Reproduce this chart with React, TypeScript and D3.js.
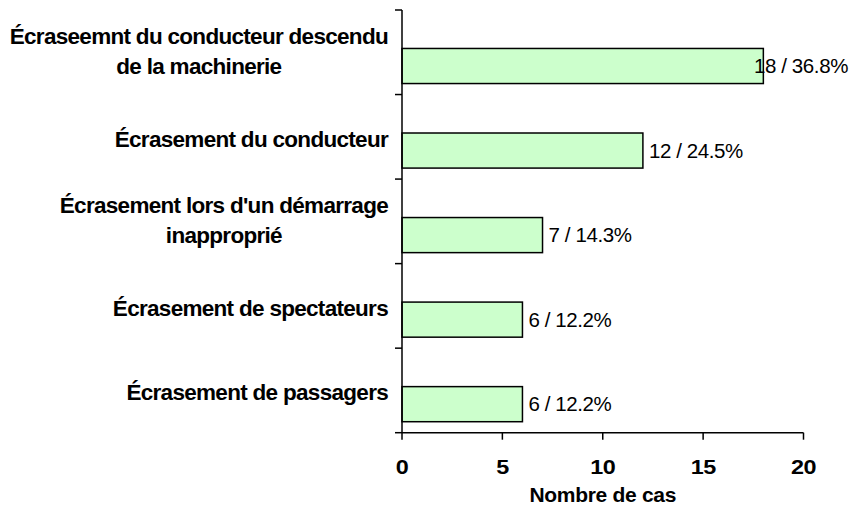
import { scaleBand, scaleLinear, select } from 'd3';
import { useRef, useLayoutEffect } from 'react';

// categories top to bottom, "\n" marks the line break used in the picture
const categories = [
    'Écraseemnt du conducteur descendu\nde la machinerie',
    'Écrasement du conducteur',
    "Écrasement lors d'un démarrage\ninapproprié",
    'Écrasement de spectateurs',
    'Écrasement de passagers',
];
const counts = [18, 12, 7, 6, 6];
const percents = ['36.8%', '24.5%', '14.3%', '12.2%', '12.2%'];
const xTicks = [0, 5, 10, 15, 20];
const xTitle = 'Nombre de cas';

const W = 851;
const H = 510;
const font = '"Liberation Sans", Arial, sans-serif';

export default function App() {
    const labelsRef = useRef(null);

    const left = 402;
    const right = 803.5;
    const top = 10;
    const bottom = 432.7;
    const labelRight = 388;

    const x = scaleLinear().domain([0, 20]).range([left, right]);
    const y = scaleBand().domain(categories).range([top, bottom]).padding(0);
    const bw = y.bandwidth();

    // band edges for the category ticks
    const edges = categories.map((c) => y(c)).concat([bottom]);

    // wrapped labels are centred as a block whose right edge sits at labelRight
    useLayoutEffect(() => {
        if (!labelsRef.current) return;
        select(labelsRef.current)
            .selectAll('text')
            .each(function () {
                const spans = select(this).selectAll('tspan');
                if (spans.size() < 2) return;
                let w = 0;
                spans.each(function () {
                    w = Math.max(w, this.getComputedTextLength());
                });
                select(this).attr('text-anchor', 'middle');
                spans.attr('x', labelRight - w / 2);
            });
    }, []);

    return (
        <svg
            width={W}
            height={H}
            style={{ position: 'absolute', left: 0, top: 0, background: '#fff' }}
            fontFamily={font}
        >
            {/* bars */}
            {categories.map((c, i) => (
                <rect
                    key={'bar-' + i}
                    x={x(0)}
                    y={y(c) + bw * 0.455}
                    width={x(counts[i]) - x(0)}
                    height={bw * 0.415}
                    fill='#CCFFCC'
                    stroke='#000'
                    strokeWidth={1.5}
                />
            ))}

            {/* value labels */}
            {categories.map((c, i) => {
                const label = `${counts[i]} / ${percents[i]}`;
                const estW = 93;
                let lx = x(counts[i]) + 6;
                let anchor = 'start';
                if (lx + estW > W - 3) {
                    lx = W - 3;
                    anchor = 'end';
                }
                return (
                    <text
                        key={'val-' + i}
                        x={lx}
                        y={y(c) + bw * 0.455 + (bw * 0.415) / 2}
                        dy='0.35em'
                        textAnchor={anchor}
                        fontSize={20.5}
                        letterSpacing={-0.4}
                        fill='#000'
                    >
                        {label}
                    </text>
                );
            })}

            {/* y axis */}
            <line x1={left} x2={left} y1={top} y2={bottom} stroke='#000' strokeWidth={1.5} />
            {edges.map((e, i) => (
                <line key={'yt-' + i} x1={left - 7} x2={left} y1={e} y2={e} stroke='#000' strokeWidth={1.5} />
            ))}

            {/* category labels */}
            <g ref={labelsRef}>
                {categories.map((c, i) => {
                    const lines = c.split('\n');
                    const lh = 30;
                    const cy =
                        y(c) + bw / 2 + (lines.length > 1 ? -1 : 2) - ((lines.length - 1) * lh) / 2;
                    return (
                        <text
                            key={'cat-' + i}
                            textAnchor='end'
                            fontSize={22.5}
                            fontWeight='bold'
                            letterSpacing={-0.7}
                            fill='#000'
                        >
                            {lines.map((l, j) => (
                                <tspan key={j} x={labelRight} y={cy + j * lh} dy='0.35em'>
                                    {l}
                                </tspan>
                            ))}
                        </text>
                    );
                })}
            </g>

            {/* x axis */}
            <line x1={left} x2={right} y1={bottom} y2={bottom} stroke='#000' strokeWidth={1.5} />
            {xTicks.map((t) => (
                <g key={'xt-' + t}>
                    <line x1={x(t)} x2={x(t)} y1={bottom} y2={bottom + 7} stroke='#000' strokeWidth={1.5} />
                    <text
                        transform={`translate(${x(t)},467) scale(1.2,1)`}
                        dy='0.35em'
                        textAnchor='middle'
                        fontSize={19.5}
                        fontWeight='bold'
                        letterSpacing={-0.5}
                        fill='#000'
                    >
                        {t}
                    </text>
                </g>
            ))}
            <text
                x={(left + right) / 2}
                y={494.5}
                dy='0.35em'
                textAnchor='middle'
                fontSize={21}
                fontWeight='bold'
                letterSpacing={-0.3}
                fill='#000'
            >
                {xTitle}
            </text>
        </svg>
    );
}
